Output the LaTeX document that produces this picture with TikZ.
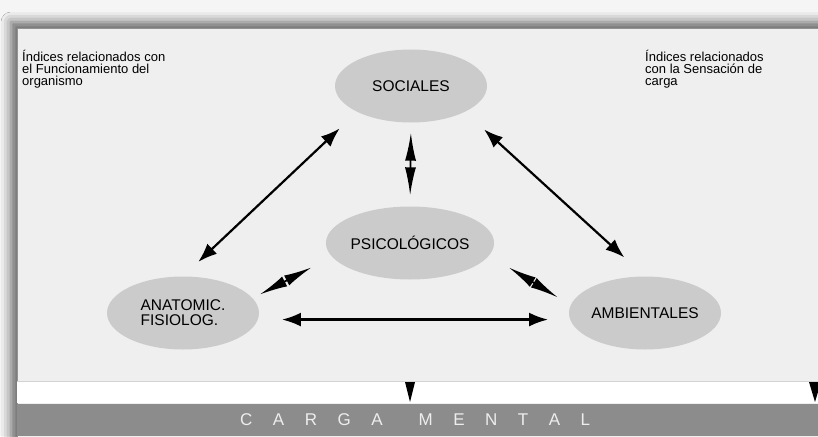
\documentclass[tikz,border=0pt]{standalone}
\usepackage{fontspec}
\setmainfont{Liberation Sans}
\usetikzlibrary{arrows.meta,shadows.blur,shapes.geometric}
\definecolor{panelgray}{HTML}{EFEFEF}
\definecolor{bubblegray}{HTML}{CBCBCB}
\definecolor{bandgray}{HTML}{8C8C8C}
\newcommand\lgap{\hspace{20.5pt}}
\begin{document}
\begin{tikzpicture}[x=1pt,y=-1pt,
  bubble/.style = {ellipse,fill=bubblegray,minimum width=152pt,minimum height=73pt,
        inner sep=0pt,align=center,font=\fontsize{15.5}{15}\selectfont},
  note/.style = {anchor=north west,align=left,inner sep=0pt,
        font=\fontsize{13}{12}\selectfont},
  both/.style = {line width=2.2pt,{Latex[length=19pt,width=14pt,fill=black]}-{Latex[length=19pt,width=14pt,fill=black]}},
  twin/.style = {line width=1.8pt,{Latex[length=28pt,width=11pt,fill=black]}-{Latex[length=28pt,width=11pt,fill=black]}}]
 \useasboundingbox (0,0) rectangle (818,436);
 % frame with its shadow
 \fill[white!96!black] (0,0) rectangle (818,436);
 \fill[panelgray,blur shadow={shadow xshift=-6pt,shadow yshift=7pt,shadow blur radius=10pt,shadow opacity=60}]
   (17,29) rectangle (840,460);
 \draw[gray!85,line width=1pt] (17,460) |- (840,29);
 % bottom band
 \fill[white] (17,381) rectangle (818,403);
 \draw[gray!35] (17,381) -- (818,381);
 \fill[bandgray] (17,404) rectangle (818,436);
 \node[anchor=west,inner sep=0pt,text=white!93!black,font=\fontsize{17}{17}\selectfont] (carga) at (240,420)
   {C\lgap A\lgap R\lgap G\lgap A\hspace{36pt}M\lgap E\lgap N\lgap T\lgap A\lgap L};
 \fill (405,382) -- (415,382) -- (410,402) -- cycle;
 \fill (809,382) -- (821,382) -- (815,402) -- cycle;
 % notes
 \node[note] (funcion) at (22,50) {Índices relacionados con\\el Funcionamiento del\\organismo};
 \node[note] (sensacion) at (645,50) {Índices relacionados\\con la Sensación de\\carga};
 % factors
 \node[bubble] (soc) at (411,86) {SOCIALES};
 \node[bubble] (psi) at (410,243) {PSICOLÓGICOS};
 \node[bubble,align=left] (ana) at (183,313) {ANATOMIC.\\FISIOLOG.};
 \node[bubble] (amb) at (645,313) {AMBIENTALES};
 % relations
 \draw[both,shorten <=24pt,shorten >=21pt] (soc.south west) -- (ana.north);
 \draw[both,shorten <=26pt,shorten >=28pt] (soc.south east) -- (amb.north);
 \draw[twin,shorten <=10pt,shorten >=11pt] (soc.south) -- (psi.north);
 \draw[twin,shorten <=8pt,shorten >=23pt] (ana.12) -- (psi.190);
 \draw[twin,shorten <=23pt,shorten >=15pt] (psi.351) -- (amb.174);
 \draw[both,shorten <=24pt,shorten >=22pt] (ana.355) -- (amb.185);
\end{tikzpicture}
\end{document}
